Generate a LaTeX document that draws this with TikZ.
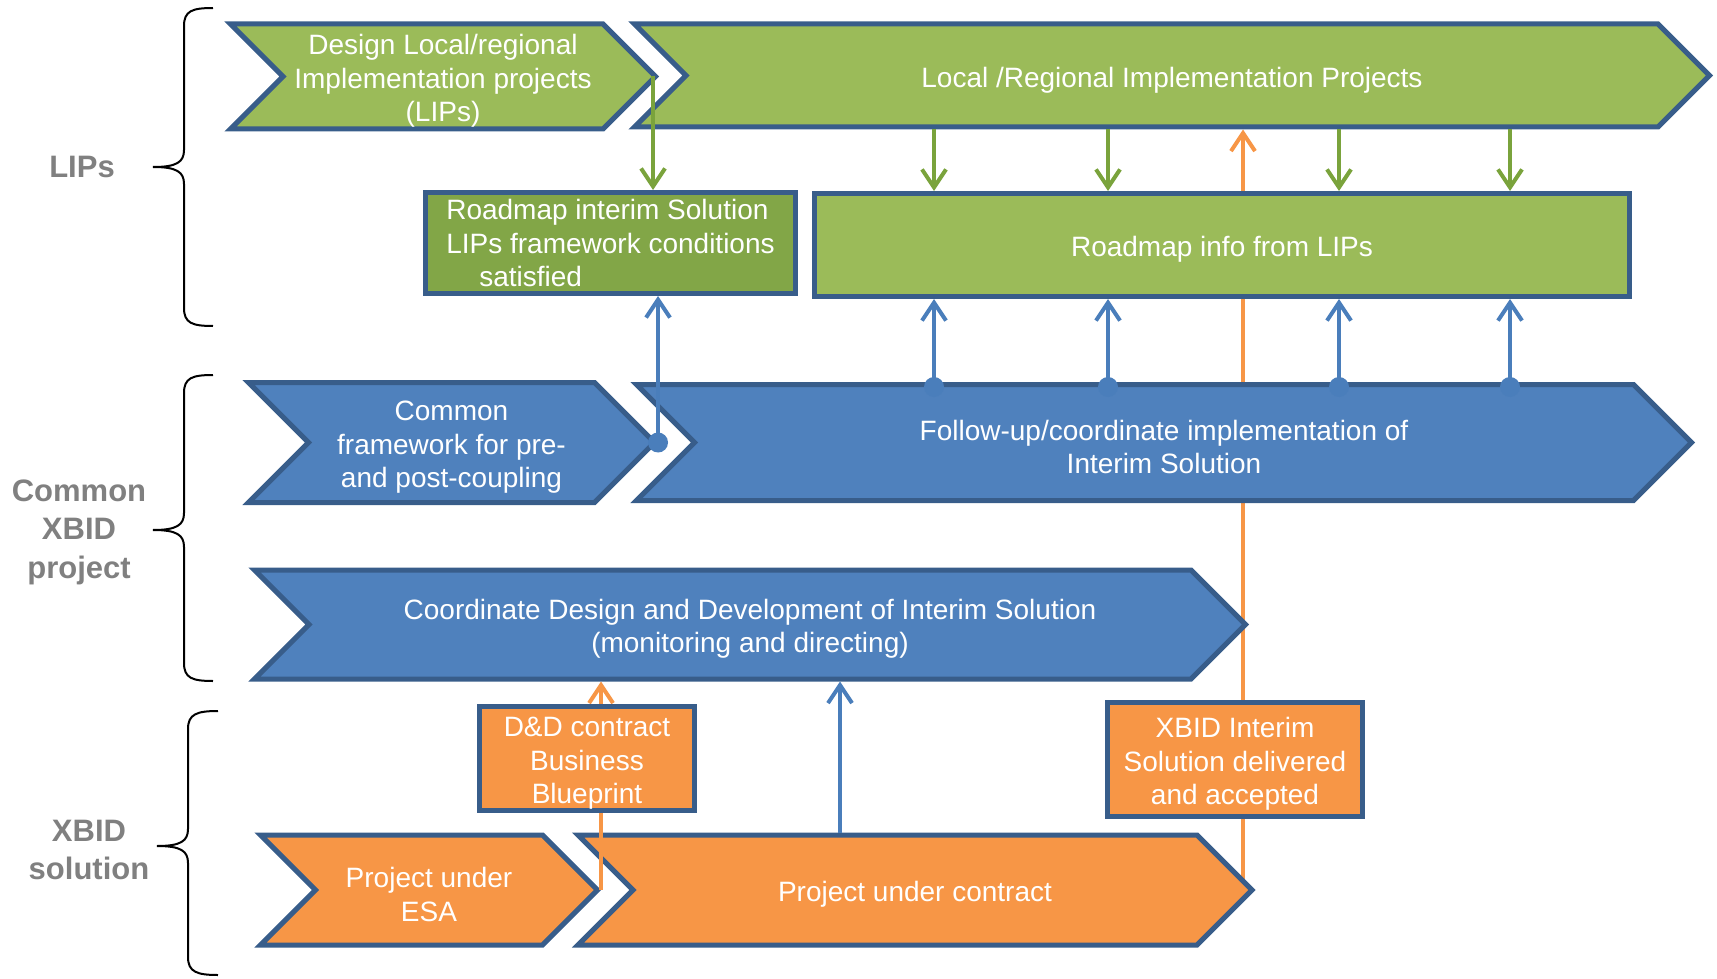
\documentclass[tikz,border=0pt]{standalone}
\usepackage{fontspec}
\setmainfont{Liberation Sans}
\usetikzlibrary{shapes.symbols}
\usetikzlibrary{arrows.meta,backgrounds}
\usepackage{xcolor}
\definecolor{lipgreen}{HTML}{9BBB59}
\definecolor{roadgreen}{HTML}{82A647}
\definecolor{xblue}{HTML}{4F81BD}
\definecolor{edgeblue}{HTML}{385D8A}
\definecolor{solorange}{HTML}{F79646}
\definecolor{arrgreen}{HTML}{7AA33C}
\definecolor{arrblue}{HTML}{4A7EBB}
\definecolor{lblgray}{HTML}{808080}
\newcommand{\chvstrut}{\rule{0pt}{29pt}}

\begin{document}
\begin{tikzpicture}[x=1pt,y=-1pt,
	chev/.style={signal,signal from=west,signal to=east,signal pointer angle=90,draw=edgeblue,line width=5pt,text=white,align=center,inner sep=0pt,font=\fontsize{28}{33.5}\selectfont},
	box/.style={rectangle,draw=edgeblue,line width=5pt,text=white,align=center,inner sep=0pt,font=\fontsize{28}{33.5}\selectfont},
	grp/.style={text=lblgray,align=center,font=\bfseries\fontsize{31}{38.5}\selectfont},
	brc/.style={draw=black,line width=2pt},
	garr/.style={draw=arrgreen,line width=4pt,-{Straight Barb[length=18pt,width=24pt]}},
	barr/.style={draw=arrblue,line width=4pt,-{Straight Barb[length=18pt,width=24pt]}},
	oarr/.style={draw=solorange,line width=4pt,-{Straight Barb[length=18pt,width=24pt]}}]
			\useasboundingbox (0,0) rectangle (1717,979);
			%group labels and braces
			\node[grp] (glips) at (82,167) {LIPs};
			\node[grp] (gcommon) at (79,532) {Common\\XBID\\project};
			\node[grp] (gsol) at (89,850) {XBID\\solution};
			\draw[brc] (213,8) .. controls (192,8) and (184,11) .. (184,26) -- (184,150) .. controls (184,162) and (177,167) .. (153,167) .. controls (177,167) and (184,172) .. (184,184) -- (184,308) .. controls (184,323) and (192,326) .. (213,326);
			\draw[brc] (213,375) .. controls (192,375) and (184,378) .. (184,393) -- (184,513) .. controls (184,525) and (177,530) .. (153,530) .. controls (177,530) and (184,535) .. (184,547) -- (184,663) .. controls (184,678) and (192,681) .. (213,681);
			\draw[brc] (218,711) .. controls (197,711) and (188,714) .. (188,729) -- (188,829) .. controls (188,841) and (181,846) .. (157,846) .. controls (181,846) and (188,851) .. (188,863) -- (188,957) .. controls (188,972) and (197,975) .. (218,975);
			%chevrons
			\node[chev,fill=lipgreen,minimum width=425pt,minimum height=105pt] (dlip) at (443,76.5) {\chvstrut Design Local/regional\\Implementation projects\\(LIPs)};
			\node[chev,fill=lipgreen,minimum width=1075pt,minimum height=103pt] (lrp) at (1172,75.5) {\chvstrut Local /Regional Implementation Projects};
			\node[chev,fill=xblue,minimum width=406pt,minimum height=120pt] (cfw) at (451.5,442.5) {\chvstrut Common\\framework for pre-\\and post-coupling};
			\node[chev,fill=xblue,minimum width=1055pt,minimum height=116pt] (fup) at (1164,442.5) {\chvstrut Follow-up/coordinate implementation of\\Interim Solution};
			\node[chev,fill=xblue,minimum width=991pt,minimum height=109pt] (coord) at (750,624.5) {\chvstrut Coordinate Design and Development of Interim Solution\\(monitoring and directing)};
			\node[chev,fill=solorange,minimum width=337pt,minimum height=110pt] (pesa) at (429,890) {\chvstrut Project under\\ESA};
			\node[chev,fill=solorange,minimum width=674pt,minimum height=110pt] (pcon) at (915,890) {\chvstrut Project under contract};
			%long line behind
			\begin{scope}[on background layer]
			\draw[oarr] (1243,0 |- pcon.east) -- (1243,0 |- lrp.south);
			\end{scope}
			\draw[oarr] (pesa.east) -- (pesa.east |- coord.south);
			%milestone boxes
			\node[box,fill=roadgreen,minimum width=370pt,minimum height=101pt,align=left] (rint) at (610.5,243) {Roadmap interim Solution\\LIPs framework conditions\\\hspace*{33pt}satisfied};
			\node[box,fill=lipgreen,minimum width=815pt,minimum height=103pt] (rinfo) at (1222,245) {\chvstrut Roadmap info from LIPs};
			\node[box,fill=solorange,minimum width=215pt,minimum height=104pt] (dnd) at (587,758.5) {\chvstrut D\&D contract\\Business\\Blueprint};
			\node[box,fill=solorange,minimum width=255pt,minimum height=114pt] (xdel) at (1235,759.5) {\chvstrut XBID Interim\\Solution delivered\\and accepted};
			%arrows
			\draw[garr] ([xshift=-6pt]dlip.east) -- ([xshift=-6pt]dlip.east |- rint.north);
			\fill[arrblue] (cfw.east) circle [radius=10];
			\draw[barr] (cfw.east) -- (cfw.east |- rint.south);
			\foreach \x in {934,1108,1339,1510} {
				\draw[garr] (\x,0 |- lrp.south) -- (\x,0 |- rinfo.north);
				\fill[arrblue] ([yshift=-5pt]\x,0 |- fup.north) circle [radius=10];
				\draw[barr] ([yshift=-5pt]\x,0 |- fup.north) -- (\x,0 |- rinfo.south);
			}
			\draw[barr] (840,0 |- pcon.north) -- (840,0 |- coord.south);
		\end{tikzpicture}
\end{document}
